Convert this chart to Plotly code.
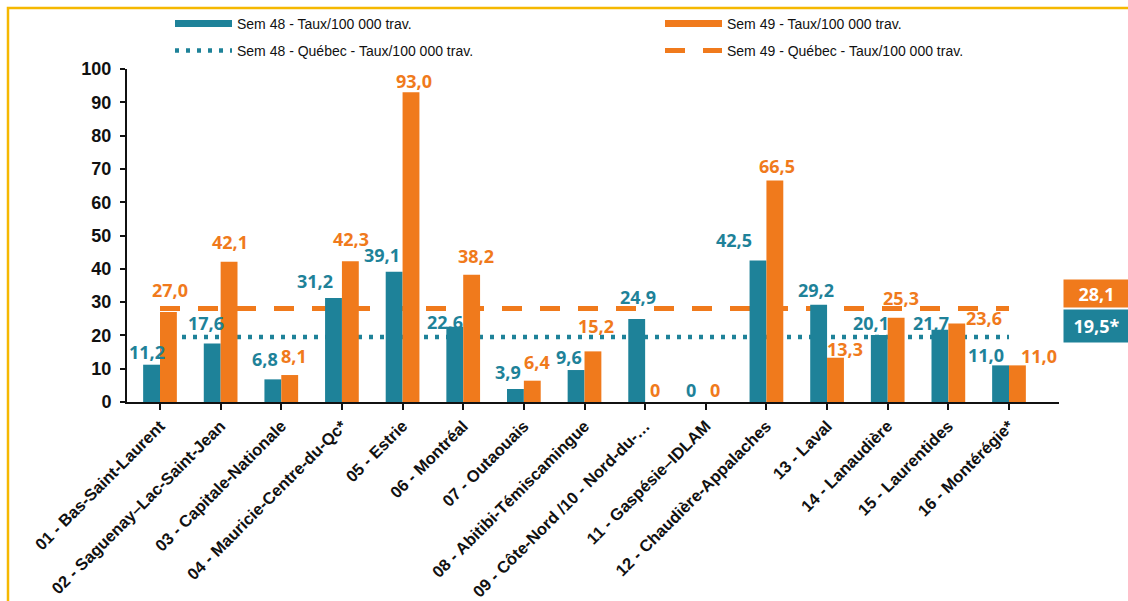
import plotly.graph_objects as go

# ---------------- data ----------------
categories = [
    "01 - Bas-Saint-Laurent",
    "02 - Saguenay–Lac-Saint-Jean",
    "03 - Capitale-Nationale",
    "04 - Mauricie-Centre-du-Qc*",
    "05 - Estrie",
    "06 - Montréal",
    "07 - Outaouais",
    "08 - Abitibi-Témiscamingue",
    "09 - Côte-Nord /10 - Nord-du-…",
    "11 - Gaspésie–IDLAM",
    "12 - Chaudière-Appalaches",
    "13 - Laval",
    "14 - Lanaudière",
    "15 - Laurentides",
    "16 - Montérégie*",
]
sem48 = [11.2, 17.6, 6.8, 31.2, 39.1, 22.6, 3.9, 9.6, 24.9, 0.0, 42.5, 29.2, 20.1, 21.7, 11.0]
sem49 = [27.0, 42.1, 8.1, 42.3, 93.0, 38.2, 6.4, 15.2, 0.0, 0.0, 66.5, 13.3, 25.3, 23.6, 11.0]
quebec48 = 19.5
quebec49 = 28.1
quebec48_label = "19,5*"
quebec49_label = "28,1"
y_ticks = list(range(0, 101, 10))

name48 = "Sem 48 - Taux/100 000 trav."
name49 = "Sem 49 - Taux/100 000 trav."
nameq48 = "Sem 48 - Québec - Taux/100 000 trav."
nameq49 = "Sem 49 - Québec - Taux/100 000 trav."

# ---------------- style ----------------
TEAL = "#1E8299"
ORANGE = "#F07A1C"
GOLD = "#F5B800"
XTICK_FONT = dict(family="Liberation Sans, Arial", size=16.5, color="#111111", weight="bold")
YTICK_FONT = dict(family="Liberation Sans, Arial", size=18, color="#111111", weight="bold")
LABEL_FONT = "Open Sans, Segoe UI, sans-serif"

# label pixel offsets (dx, dy) relative to each bar top
off48 = [(-13, 13), (-15, 20), (-16, 20), (-27, 17), (-21, 17), (-18, 5), (-16, 17), (-16, 13),
         (-7, 22), (-15, 12), (-32, 20), (-11, 15), (-17, 12), (-17, 7), (-23, 10)]
off49 = [(10, 22), (9, 20), (13, 19), (9, 22), (11, 11), (13, 19), (13, 19), (11, 25),
         (10, 12), (9, 12), (11, 15), (18, 9), (13, 20), (36, 5), (30, 9)]


def fmt(v):
    return "0" if v == 0 else f"{v:.1f}".replace(".", ",")


fig = go.Figure()

# Québec reference lines (drawn beneath the bars)
fig.add_trace(go.Scatter(
    x=categories, y=[quebec48] * len(categories), mode="lines", name=nameq48,
    line=dict(color=TEAL, width=4.5, dash="4px,7px"), legend="legend3",
    xaxis="x", yaxis="y", hoverinfo="skip"))
fig.add_trace(go.Scatter(
    x=categories, y=[quebec49] * len(categories), mode="lines", name=nameq49,
    line=dict(color=ORANGE, width=5, dash="20px,18px"), legend="legend4",
    xaxis="x", yaxis="y", hoverinfo="skip"))

# bars on an overlaying axis so they sit above the lines
fig.add_trace(go.Bar(x=categories, y=sem48, name=name48, marker=dict(color=TEAL, line=dict(width=0)),
                     legendgroup="s48", showlegend=False, xaxis="x", yaxis="y2"))
fig.add_trace(go.Bar(x=categories, y=sem49, name=name49, marker=dict(color=ORANGE, line=dict(width=0)),
                     legendgroup="s49", showlegend=False, xaxis="x", yaxis="y2"))
# legend keys for the bars (wide rectangles like the original)
fig.add_trace(go.Scatter(x=[None], y=[None], mode="lines", name=name48, legendgroup="s48",
                         line=dict(color=TEAL, width=7), legend="legend", xaxis="x", yaxis="y"))
fig.add_trace(go.Scatter(x=[None], y=[None], mode="lines", name=name49, legendgroup="s49",
                         line=dict(color=ORANGE, width=7), legend="legend2", xaxis="x", yaxis="y"))

annotations = []
for cat, v, (dx, dy) in zip(categories, sem48, off48):
    annotations.append(dict(x=cat, y=v, xref="x", yref="y", text=fmt(v), showarrow=False,
                            xshift=dx, yshift=dy,
                            font=dict(family=LABEL_FONT, size=18, color=TEAL, weight="bold")))
for cat, v, (dx, dy) in zip(categories, sem49, off49):
    annotations.append(dict(x=cat, y=v, xref="x", yref="y", text=fmt(v), showarrow=False,
                            xshift=dx, yshift=dy,
                            font=dict(family=LABEL_FONT, size=18, color=ORANGE, weight="bold")))

# Québec value boxes on the right
W, H = 932, 333
annotations.append(dict(x=1 + 4 / W, y=quebec49, xref="paper", yref="y", xanchor="left",
                        text=quebec49_label, showarrow=False, yshift=15, bgcolor=ORANGE,
                        width=61, height=23, borderpad=2, align="center",
                        font=dict(family=LABEL_FONT, size=18, color="white", weight="bold")))
annotations.append(dict(x=1 + 4 / W, y=quebec48, xref="paper", yref="y", xanchor="left",
                        text=quebec48_label, showarrow=False, yshift=11, bgcolor=TEAL,
                        width=61, height=28, borderpad=2, align="center",
                        font=dict(family=LABEL_FONT, size=18, color="white", weight="bold")))

# gold frame (top and left edges visible)
shapes = [dict(type="rect", xref="paper", yref="paper",
               x0=(8 - 127) / W, x1=(1200 - 127) / W,
               y0=-(660 - 402) / H, y1=1 + (69 - 8) / H,
               line=dict(color=GOLD, width=2.5), fillcolor="rgba(0,0,0,0)", layer="below")]

legend_font = dict(family="Liberation Sans, Arial", size=14, color="#111111")


def legend_at(px, py):
    return dict(orientation="h", xref="container", yref="container",
                x=px / 1128, y=1 - py / 601, xanchor="left", yanchor="middle",
                itemwidth=57, font=legend_font, bgcolor="rgba(0,0,0,0)")


fig.update_layout(
    width=1128, height=601,
    margin=dict(l=127, r=69, t=69, b=199, pad=0, autoexpand=False),
    paper_bgcolor="white", plot_bgcolor="white",
    barmode="group", bargap=0.444, bargroupgap=0,
    showlegend=True,
    legend=legend_at(170, 24),
    legend2=legend_at(660, 24),
    legend3=legend_at(170, 51),
    legend4=legend_at(660, 51),
    xaxis=dict(type="category", showline=True, linecolor="#111111", linewidth=2,
               ticks="outside", ticklen=6, tickwidth=2, tickcolor="#111111",
               tickangle=-45, tickfont=XTICK_FONT, showgrid=False, zeroline=False),
    yaxis=dict(range=[0, 100], tickvals=y_ticks, showline=True, linecolor="#111111", linewidth=2,
               ticks="outside", ticklen=5, tickwidth=2, tickcolor="#111111",
               ticklabelstandoff=5,
               tickfont=YTICK_FONT, showgrid=False, zeroline=False),
    yaxis2=dict(range=[0, 100], overlaying="y", visible=False, showgrid=False, zeroline=False),
    annotations=annotations,
    shapes=shapes,
)

fig.write_html("out.html", config={"displayModeBar": False},
               post_script="document.body.style.margin='0';document.body.style.overflow='hidden';")
